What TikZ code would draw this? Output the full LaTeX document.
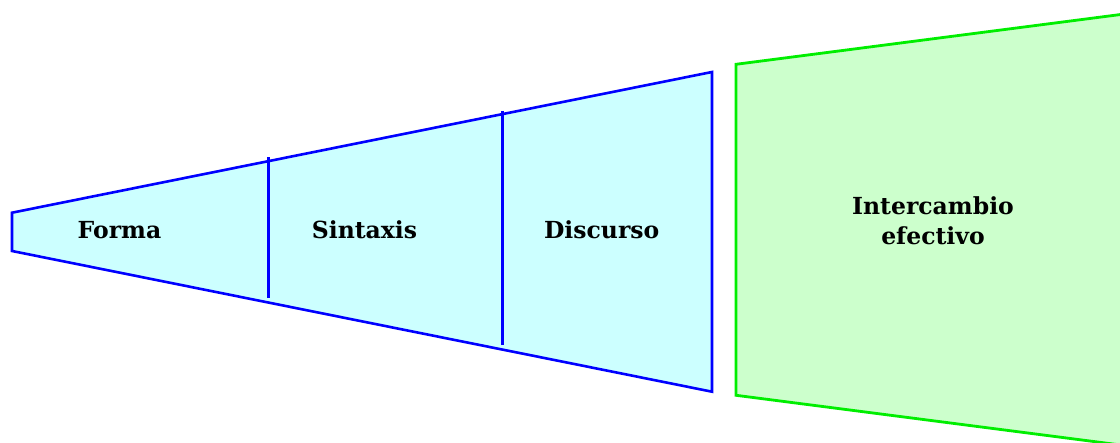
\documentclass[tikz,border=0pt]{standalone}
\usepackage{fontspec}
\setmainfont{DejaVu Serif}
\definecolor{funnelfill}{HTML}{CCFFFF}
\definecolor{funneldraw}{HTML}{0000FF}
\definecolor{goalfill}{HTML}{CCFFCC}
\definecolor{goaldraw}{HTML}{00EE00}
\begin{document}
\begin{tikzpicture}[x=1pt,y=-1pt,
  lbl/.style={font=\fontsize{23.5}{30.7}\selectfont\bfseries, align=center, inner sep=0pt},
  funnel/.style={draw=funneldraw, fill=funnelfill, line width=2.6pt, line join=miter},
  divider/.style={draw=funneldraw, line width=2.6pt},
  goal/.style={draw=goaldraw, fill=goalfill, line width=2.8pt, line join=miter}]
\useasboundingbox (0,0) rectangle (1120,443);
\clip (0,0) rectangle (1120,443);
% funnel
\coordinate (fTL) at (12,212.7);
\coordinate (fBL) at (12,251);
\coordinate (fTR) at (712,72);
\coordinate (fBR) at (712,391.7);
\path[funnel] (fTL) -- (fTR) -- (fBR) -- (fBL) -- cycle;
\coordinate (d1t) at (268.7,157.5);
\coordinate (d1b) at (268.7,298.3);
\coordinate (d2t) at (502.3,111);
\coordinate (d2b) at (502.3,345.5);
\draw[divider] (d1t) -- (d1b);
\draw[divider] (d2t) -- (d2b);
% goal
\coordinate (gTL) at (736,64.3);
\coordinate (gBL) at (736,395.3);
\coordinate (gTR) at (1140,12);
\coordinate (gBR) at (1140,447.5);
\path[goal] (gTL) -- (gTR) -- (gBR) -- (gBL) -- cycle;
% labels
\node[lbl, anchor=base] (forma) at (119.5,238.3) {Forma};
\node[lbl, anchor=base] (sintaxis) at (364.5,238.3) {Sintaxis};
\node[lbl, anchor=base] (discurso) at (601.7,238.3) {Discurso};
\node[lbl, anchor=base] (interc) at (933,245) {Intercambio\\efectivo};
\end{tikzpicture}
\end{document}
